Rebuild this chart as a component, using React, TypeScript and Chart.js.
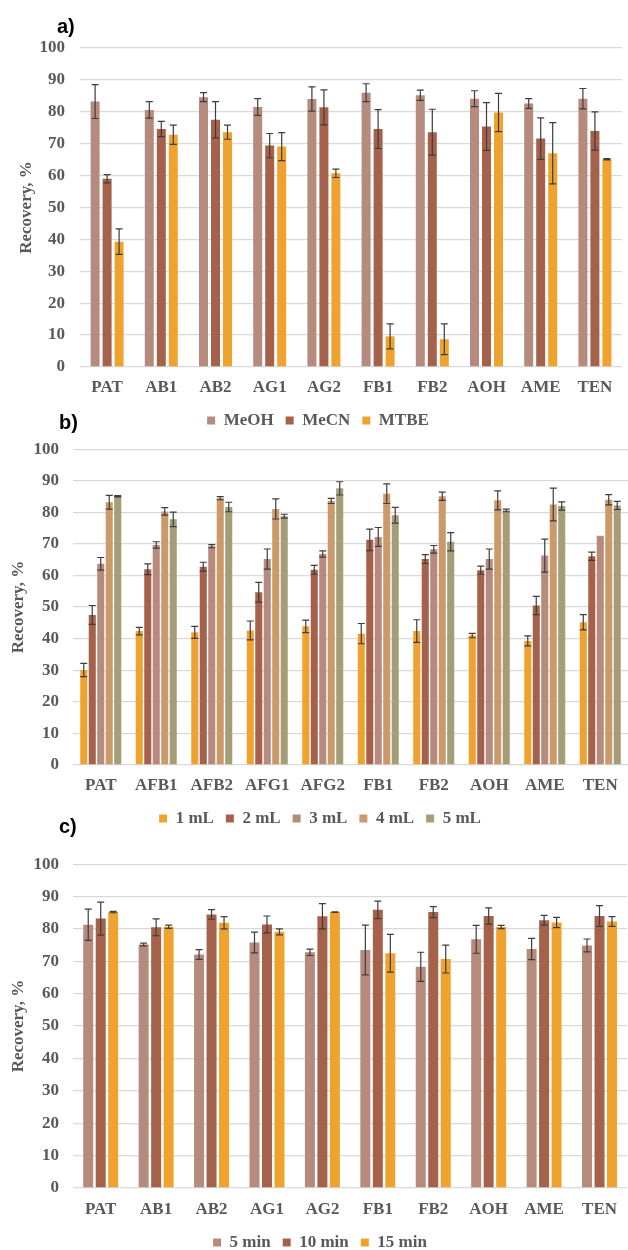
import React, { useEffect, useRef } from 'react';
import { Chart, registerables } from 'chart.js';

Chart.register(...registerables);

// ---------- DATA ----------
const categoriesA = ['PAT', 'AB1', 'AB2', 'AG1', 'AG2', 'FB1', 'FB2', 'AOH', 'AME', 'TEN'];
const meohA = [83.2, 80.6, 84.6, 81.5, 84.0, 86.0, 85.2, 84.1, 82.6, 84.1];
const meohErrA = [5.3, 2.6, 1.4, 2.6, 3.8, 2.8, 1.6, 2.5, 1.5, 3.2];
const mecnA = [59.0, 74.6, 77.5, 69.4, 81.4, 74.6, 73.6, 75.4, 71.6, 74.0];
const mecnErrA = [1.3, 2.4, 5.7, 3.8, 5.5, 6.1, 7.2, 7.5, 6.5, 6.0];
const mtbeA = [39.3, 72.8, 73.6, 69.1, 60.7, 9.6, 8.7, 79.8, 67.0, 65.1];
const mtbeErrA = [4.0, 3.0, 2.2, 4.4, 1.3, 3.9, 4.8, 6.0, 9.6, 0.2];

const categoriesB = ['PAT', 'AFB1', 'AFB2', 'AFG1', 'AFG2', 'FB1', 'FB2', 'AOH', 'AME', 'TEN'];
const ml1B = [30.1, 42.4, 42.0, 42.6, 43.9, 41.6, 42.4, 41.0, 39.3, 45.2];
const ml1ErrB = [2.1, 1.2, 1.9, 3.0, 2.0, 3.2, 3.6, 0.7, 1.6, 2.4];
const ml2B = [47.5, 62.0, 62.8, 54.7, 61.8, 71.3, 65.2, 61.7, 50.5, 66.1];
const ml2ErrB = [3.0, 1.7, 1.4, 3.1, 1.4, 3.4, 1.4, 1.3, 2.9, 1.3];
const ml3B = [63.7, 69.7, 69.3, 65.2, 66.8, 72.2, 68.3, 65.2, 66.3, 72.6];
const ml3ErrB = [2.0, 1.0, 0.5, 3.2, 1.0, 3.0, 1.2, 3.2, 5.2, 0];
const ml4B = [83.2, 80.3, 84.5, 81.1, 83.6, 85.9, 85.1, 83.8, 82.5, 84.0];
const ml4ErrB = [2.2, 1.2, 0.5, 3.2, 0.8, 3.1, 1.3, 3.0, 5.2, 1.6];
const ml5B = [85.1, 77.8, 81.7, 78.8, 87.6, 79.1, 70.7, 80.6, 82.0, 82.2];
const ml5ErrB = [0.2, 2.3, 1.5, 0.6, 2.1, 2.5, 2.9, 0.4, 1.3, 1.3];

const categoriesC = ['PAT', 'AB1', 'AB2', 'AG1', 'AG2', 'FB1', 'FB2', 'AOH', 'AME', 'TEN'];
const min5C = [81.3, 75.2, 72.1, 75.8, 72.8, 73.5, 68.3, 76.8, 73.8, 74.9];
const min5ErrC = [4.8, 0.4, 1.5, 3.2, 1.0, 7.7, 4.5, 4.3, 3.3, 2.0];
const min10C = [83.2, 80.5, 84.5, 81.4, 83.9, 85.9, 85.2, 84.0, 82.7, 84.0];
const min10ErrC = [5.1, 2.6, 1.5, 2.6, 3.9, 2.7, 1.7, 2.5, 1.5, 3.2];
const min15C = [85.2, 80.7, 81.9, 79.1, 85.2, 72.5, 70.7, 80.6, 82.0, 82.3];
const min15ErrC = [0.2, 0.5, 1.9, 0.9, 0.1, 5.8, 4.3, 0.5, 1.6, 1.5];

const yTitle = 'Recovery, %';

// ---------- STYLE ----------
const C_ROSE = '#B68A7D';
const C_BROWN = '#A6614B';
const C_ORANGE = '#F0A22E';
const C_TAN = '#CB9A6B';
const C_OLIVE = '#A59C78';
const TEXT = '#595959';
const FONT = "'Liberation Serif', 'Times New Roman', serif";

const errorBarPlugin = {
  id: 'errorBars',
  afterDatasetsDraw(chart: any, _args: any, opts: any) {
    const errs = opts.errors as number[][];
    if (!errs) return;
    const ctx = chart.ctx;
    const y = chart.scales.y;
    ctx.save();
    ctx.strokeStyle = '#3d3d3d';
    ctx.lineWidth = 1.2;
    chart.data.datasets.forEach((ds: any, i: number) => {
      const meta = chart.getDatasetMeta(i);
      meta.data.forEach((bar: any, j: number) => {
        const e = errs[i][j];
        if (!e) return;
        const v = ds.data[j];
        const t = y.getPixelForValue(v + e);
        const b = y.getPixelForValue(v - e);
        const x = bar.x;
        const hw = 3.5;
        ctx.beginPath();
        ctx.moveTo(x, t);
        ctx.lineTo(x, b);
        ctx.moveTo(x - hw, t);
        ctx.lineTo(x + hw, t);
        ctx.moveTo(x - hw, b);
        ctx.lineTo(x + hw, b);
        ctx.stroke();
      });
    });
    ctx.restore();
  },
};

const legendShiftPlugin = {
  id: 'legendShift',
  afterLayout(chart: any, _args: any, opts: any) {
    const d = opts.dx || 0;
    if (chart.legend) {
      chart.legend.left += d;
      chart.legend.right += d;
    }
  },
};

type PanelCfg = {
  top: number;
  height: number;
  labels: string[];
  series: { label: string; data: number[]; err: number[]; color: string }[];
  padTop: number;
  padRight: number;
  yWidth: number;
  tickPad: number;
  titlePad: number;
  xHeight: number;
  xLabelPad: number;
  catPct: number;
  barPct: number;
  legendDx: number;
};

function Panel({ cfg }: { cfg: PanelCfg }) {
  const ref = useRef<HTMLCanvasElement>(null);
  useEffect(() => {
    if (!ref.current) return;
    const chart = new Chart(ref.current, {
      type: 'bar',
      data: {
        labels: cfg.labels,
        datasets: cfg.series.map((s) => ({
          label: s.label,
          data: s.data,
          backgroundColor: s.color,
          borderWidth: 0,
          categoryPercentage: cfg.catPct,
          barPercentage: cfg.barPct,
        })),
      },
      plugins: [errorBarPlugin as any, legendShiftPlugin as any],
      options: {
        animation: false,
        responsive: false,
        maintainAspectRatio: false,
        devicePixelRatio: 1,
        layout: { padding: { top: cfg.padTop, right: cfg.padRight, left: 0, bottom: 0 } },
        plugins: {
          tooltip: { enabled: false },
          legend: {
            position: 'bottom',
            labels: {
              boxWidth: 8,
              boxHeight: 8,
              padding: 12,
              color: TEXT,
              font: { family: FONT, size: 17, weight: 'bold' },
            },
          },
          errorBars: { errors: cfg.series.map((s) => s.err) },
          legendShift: { dx: cfg.legendDx },
        } as any,
        scales: {
          x: {
            grid: { display: false, drawTicks: false },
            border: { display: false },
            ticks: {
              color: TEXT,
              padding: cfg.xLabelPad,
              maxRotation: 0,
              autoSkip: false,
              font: { family: FONT, size: 17, weight: 'bold' },
            },
            afterFit: (s: any) => {
              s.height = cfg.xHeight;
            },
          },
          y: {
            min: 0,
            max: 100,
            ticks: {
              stepSize: 10,
              color: TEXT,
              padding: cfg.tickPad,
              font: { family: FONT, size: 17, weight: 'bold' },
            },
            grid: { color: '#D9D9D9', lineWidth: 1.3, drawTicks: false },
            border: { display: false },
            title: {
              display: true,
              text: yTitle,
              color: TEXT,
              padding: { top: cfg.titlePad, bottom: 0 },
              font: { family: FONT, size: 17, weight: 'bold' },
            },
            afterFit: (s: any) => {
              s.width = cfg.yWidth;
            },
          },
        },
      } as any,
    });
    return () => chart.destroy();
  }, [cfg]);
  return (
    <canvas
      ref={ref}
      width={628}
      height={cfg.height}
      style={{ position: 'absolute', left: 0, top: cfg.top, width: 628, height: cfg.height }}
    />
  );
}

const panelA: PanelCfg = {
  top: 0,
  height: 439,
  labels: categoriesA,
  series: [
    { label: 'MeOH', data: meohA, err: meohErrA, color: C_ROSE },
    { label: 'MeCN', data: mecnA, err: mecnErrA, color: C_BROWN },
    { label: 'MTBE', data: mtbeA, err: mtbeErrA, color: C_ORANGE },
  ],
  padTop: 48,
  padRight: 6,
  yWidth: 80,
  tickPad: 15,
  titlePad: 16,
  xHeight: 33,
  xLabelPad: 10,
  catPct: 0.664,
  barPct: 0.75,
  legendDx: 7,
};

const panelB: PanelCfg = {
  top: 425,
  height: 412,
  labels: categoriesB,
  series: [
    { label: '1 mL', data: ml1B, err: ml1ErrB, color: C_ORANGE },
    { label: '2 mL', data: ml2B, err: ml2ErrB, color: C_BROWN },
    { label: '3 mL', data: ml3B, err: ml3ErrB, color: C_ROSE },
    { label: '4 mL', data: ml4B, err: ml4ErrB, color: C_TAN },
    { label: '5 mL', data: ml5B, err: ml5ErrB, color: C_OLIVE },
  ],
  padTop: 22,
  padRight: 0,
  yWidth: 73,
  tickPad: 14,
  titlePad: 8,
  xHeight: 33,
  xLabelPad: 10,
  catPct: 0.765,
  barPct: 0.83,
  legendDx: 6,
};

const panelC: PanelCfg = {
  top: 840,
  height: 421,
  labels: categoriesC,
  series: [
    { label: '5 min', data: min5C, err: min5ErrC, color: C_ROSE },
    { label: '10 min', data: min10C, err: min10ErrC, color: C_BROWN },
    { label: '15 min', data: min15C, err: min15ErrC, color: C_ORANGE },
  ],
  padTop: 18,
  padRight: 0,
  yWidth: 73,
  tickPad: 14,
  titlePad: 8,
  xHeight: 34,
  xLabelPad: 11,
  catPct: 0.676,
  barPct: 0.8,
  legendDx: 6,
};

const labelStyle: React.CSSProperties = {
  position: 'absolute',
  fontFamily: "'Liberation Sans', Arial, sans-serif",
  fontWeight: 'bold',
  fontSize: 20,
  lineHeight: '20px',
  color: '#000',
};

export default function App() {
  useEffect(() => {
    document.body.style.margin = '0';
    document.documentElement.style.overflow = 'hidden';
  }, []);
  return (
    <div
      style={{
        position: 'absolute',
        left: 0,
        top: 0,
        width: 628,
        height: 1250,
        overflow: 'hidden',
        background: '#fff',
      }}
    >
      <Panel cfg={panelA} />
      <Panel cfg={panelB} />
      <Panel cfg={panelC} />
      <div style={{ ...labelStyle, left: 57, top: 16 }}>a)</div>
      <div style={{ ...labelStyle, left: 59, top: 412 }}>b)</div>
      <div style={{ ...labelStyle, left: 59, top: 816 }}>c)</div>
    </div>
  );
}
